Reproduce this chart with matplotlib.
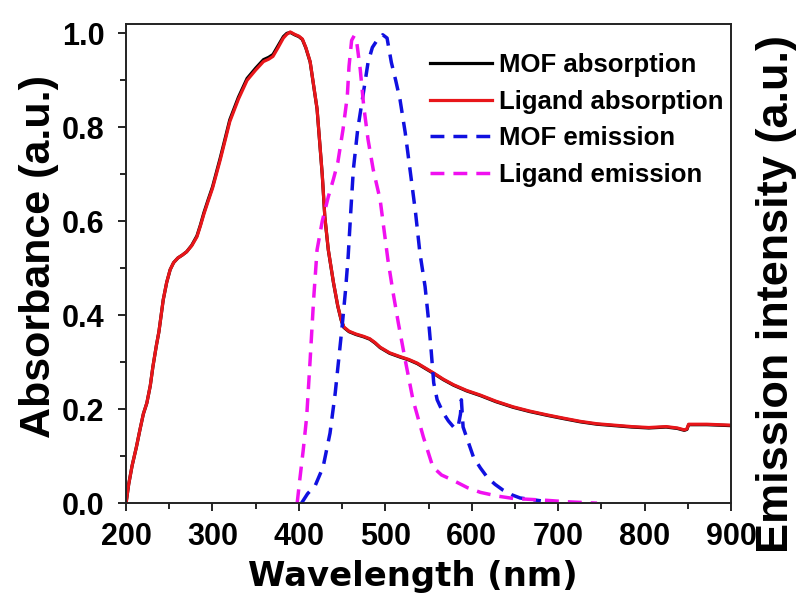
import matplotlib
matplotlib.use("Agg")
import matplotlib.pyplot as plt
from matplotlib.ticker import MultipleLocator

# ========================= Data =========================
wl_abs = [200, 203, 207, 212, 216, 220, 224, 228, 231, 235, 238, 243, 247, 251, 255,
          260, 265, 270, 276, 282, 286, 290, 295, 300, 309, 315, 320, 330, 340, 350,
          359, 365, 370, 376, 382, 386, 390, 395, 400, 404, 408, 413, 417, 421, 424,
          427, 430, 434, 440, 445, 449, 452, 458, 466, 475, 482, 488, 494, 505, 517,
          527, 537, 546, 556, 567, 579, 594, 610, 628, 648, 667, 687, 706, 726, 745,
          765, 785, 805, 825, 838, 846, 849, 851, 860, 872, 886, 900]

ligand_abs = [0.0, 0.04, 0.08, 0.12, 0.156, 0.19, 0.213, 0.25, 0.29, 0.335, 0.365, 0.433, 0.47, 0.497, 0.512,
              0.522, 0.528, 0.535, 0.548, 0.567, 0.59, 0.615, 0.643, 0.67, 0.731, 0.775, 0.812, 0.86, 0.9, 0.922,
              0.94, 0.945, 0.951, 0.97, 0.99, 0.998, 1.003, 0.998, 0.994, 0.988, 0.97, 0.94, 0.89, 0.84, 0.77,
              0.70, 0.61, 0.54, 0.47, 0.42, 0.39, 0.375, 0.366, 0.36, 0.355, 0.35, 0.342, 0.332, 0.32, 0.312,
              0.306, 0.298, 0.288, 0.277, 0.264, 0.252, 0.24, 0.23, 0.217, 0.205, 0.196, 0.188, 0.181, 0.174, 0.169,
              0.166, 0.163, 0.161, 0.163, 0.16, 0.156, 0.158, 0.168, 0.168, 0.168, 0.167, 0.166]

mof_abs = [0.0, 0.04, 0.08, 0.12, 0.156, 0.19, 0.213, 0.25, 0.29, 0.335, 0.365, 0.433, 0.47, 0.497, 0.512,
           0.522, 0.528, 0.535, 0.549, 0.569, 0.592, 0.618, 0.646, 0.673, 0.735, 0.779, 0.816, 0.864, 0.904, 0.926,
           0.944, 0.949, 0.955, 0.974, 0.993, 1.0, 1.002, 0.997, 0.993, 0.987, 0.969, 0.939, 0.889, 0.839, 0.769,
           0.699, 0.609, 0.539, 0.469, 0.419, 0.389, 0.374, 0.365, 0.359, 0.354, 0.349, 0.341, 0.331, 0.319, 0.311,
           0.305, 0.297, 0.287, 0.276, 0.263, 0.251, 0.239, 0.229, 0.216, 0.204, 0.195, 0.187, 0.18, 0.173, 0.168,
           0.165, 0.162, 0.16, 0.162, 0.159, 0.155, 0.157, 0.167, 0.167, 0.167, 0.166, 0.165]

wl_lig_em = [398, 401, 405, 409, 413, 417, 421, 427, 434, 440, 445, 451, 456, 458, 461,
             464, 467, 471, 475, 480, 486, 494, 503, 509, 515, 523, 532, 544, 555, 565,
             578, 595, 610, 630, 648, 668, 687, 710, 745]
lig_em = [0.0, 0.05, 0.113, 0.184, 0.305, 0.433, 0.539, 0.6, 0.652, 0.69, 0.725, 0.795, 0.866, 0.93, 0.985,
          0.995, 0.98, 0.923, 0.845, 0.774, 0.71, 0.646, 0.518, 0.448, 0.384, 0.305, 0.22, 0.141, 0.077, 0.06,
          0.049, 0.033, 0.023, 0.015, 0.01, 0.008, 0.006, 0.003, 0.0]

wl_mof_em = [403, 410, 419, 428, 436, 442, 446, 450, 454, 457, 460, 463, 468, 474, 480,
             485, 490, 497, 502, 507, 512, 517, 523, 529, 535, 540, 546, 550, 553, 556,
             560, 567, 573, 579, 584, 587, 588, 590, 596, 602, 610, 618, 627, 636, 646,
             656, 668, 680]
mof_em = [0.0, 0.02, 0.038, 0.077, 0.149, 0.234, 0.305, 0.376, 0.454, 0.525, 0.62, 0.71, 0.795, 0.866, 0.938,
          0.97, 0.984, 0.997, 0.99, 0.938, 0.9, 0.859, 0.789, 0.704, 0.618, 0.533, 0.461, 0.39, 0.326, 0.256,
          0.22, 0.192, 0.175, 0.162, 0.16, 0.19, 0.22, 0.162, 0.13, 0.098, 0.075, 0.055, 0.04, 0.028, 0.018,
          0.011, 0.008, 0.005]

x_ticks = [200, 300, 400, 500, 600, 700, 800, 900]
y_ticks = [0.0, 0.2, 0.4, 0.6, 0.8, 1.0]

# ========================= Plot =========================
arial = "Liberation Sans"
fig = plt.figure(figsize=(7.98, 5.99), dpi=100)
ax = fig.add_axes([0.158, 0.160, 0.758, 0.800])

l1, = ax.plot(wl_abs, mof_abs, color="black", lw=2.3, label="MOF absorption")
l2, = ax.plot(wl_abs, ligand_abs, color="#e8161a", lw=2.3, label="Ligand absorption")

ax2 = ax.twinx()
l3, = ax2.plot(wl_mof_em, mof_em, color="#1010e0", lw=2.5, dashes=(4, 2.6), label="MOF emission")
l4, = ax2.plot(wl_lig_em, lig_em, color="#f010f0", lw=2.5, dashes=(4, 2.6), label="Ligand emission")

ax.set_xlim(200, 900)
ax.set_ylim(0, 1.02)
ax2.set_ylim(0, 1.02)
ax2.set_yticks([])

ax.set_xticks(x_ticks)
ax.set_yticks(y_ticks)
ax.xaxis.set_minor_locator(MultipleLocator(50))
ax.yaxis.set_minor_locator(MultipleLocator(0.1))
ax.set_yticklabels([f"{v:.1f}" for v in y_ticks])
ax.tick_params(which="major", direction="out", length=6, width=1.2)
ax.tick_params(which="minor", direction="out", length=4, width=1.2)
ax.tick_params(axis="x", which="major", pad=7.5)
ax.tick_params(axis="y", which="major", pad=9.5)
for lab in ax.get_xticklabels() + ax.get_yticklabels():
    lab.set_fontfamily(arial)
    lab.set_fontweight("bold")
    lab.set_fontsize(22)

for a in (ax, ax2):
    for s in a.spines.values():
        s.set_linewidth(1.2)
        s.set_color("#222222")

ax.set_xlabel("Wavelength (nm)", fontfamily="DejaVu Sans", fontweight="bold", fontsize=24.4)
ax.xaxis.set_label_coords(0.474, -0.118)
ax.set_ylabel("Absorbance (a.u.)", fontfamily=arial, fontweight="bold", fontsize=31)
ax.yaxis.set_label_coords(-0.111, 0.514)
ax2.set_ylabel("Emission intensity (a.u.)", fontfamily=arial, fontweight="bold", fontsize=32.5)
ax2.yaxis.set_label_coords(1.041, 0.437)

ax.legend(handles=[l1, l2, l3, l4], loc="center left", bbox_to_anchor=(430 / 798, 1 - 120 / 599),
          bbox_transform=fig.transFigure, frameon=False, borderpad=0, borderaxespad=0,
          handlelength=2.4, handletextpad=0.3, labelspacing=0.5,
          prop={"family": arial, "weight": "bold", "size": 18.5})

fig.savefig("out.png", dpi=100)
